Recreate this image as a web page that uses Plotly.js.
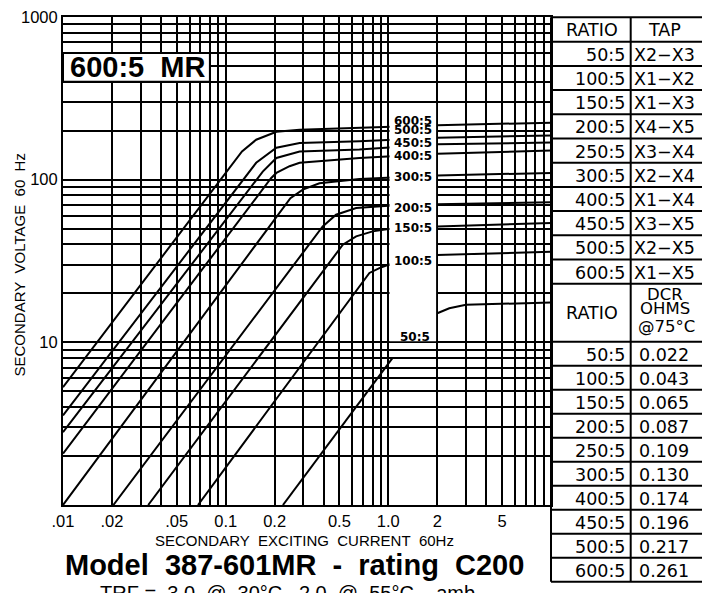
<!DOCTYPE html>
<html><head><meta charset="utf-8">
<script src="https://cdn.plot.ly/plotly-3.0.1.min.js"></script>
<style>html,body{margin:0;padding:0;background:#fff;} #chart{width:702px;height:593px;}</style>
</head><body><div id="chart"></div>
<script>
// ---------------- data ----------------
const ratios  = ["50:5","100:5","150:5","200:5","250:5","300:5","400:5","450:5","500:5","600:5"];
const taps    = ["X2\u2212X3","X1\u2212X2","X1\u2212X3","X4\u2212X5","X3\u2212X4","X2\u2212X4","X1\u2212X4","X3\u2212X5","X2\u2212X5","X1\u2212X5"];
const dcrOhms = ["0.022","0.043","0.065","0.087","0.109","0.130","0.174","0.196","0.217","0.261"];

// excitation curves: secondary exciting current (A) vs secondary voltage (V)
const curveNames = ["600:5","500:5","450:5","400:5","300:5","200:5","150:5","100:5","50:5"];
const I600 = [0.01, 0.126, 0.154, 0.205, 0.285, 0.664, 2, 10];
const V600 = [5.3, 149, 176, 197, 203, 209, 216, 224];
const I500 = [0.01, 0.154, 0.205, 0.285, 0.664, 2, 10];
const V500 = [3.55, 127, 157, 168, 172, 181, 187];
const I450 = [0.01, 0.169, 0.205, 0.285, 0.664, 2, 10];
const V450 = [2.8, 112, 136, 149, 153, 165, 169];
const I400 = [0.01, 0.19, 0.205, 0.247, 0.285, 0.664, 2, 10];
const V400 = [2.07, 102, 110, 121, 127, 136, 144.5, 151];
const I300 = [0.01, 0.25, 0.298, 0.377, 0.664, 2, 10];
const V300 = [1.0, 77, 86.8, 95, 101, 106, 110];
const I200 = [0.0204, 0.395, 0.477, 0.634, 1.0, 2, 10];
const V200 = [1, 51.6, 60.9, 67, 69.2, 70.7, 72.7];
const I150 = [0.0334, 0.525, 0.634, 0.801, 1.0, 2, 10];
const V150 = [1, 39.8, 44.8, 48.1, 49.7, 51.6, 54.1];
const I100 = [0.0676, 0.765, 0.881, 1.0, 2, 10];
const V100 = [1, 26.7, 28.6, 30, 34.4, 36.1];
const I50  = [0.225, 1.06, null, 2, 2.37, 3, 10];
const V50  = [1, 8.0, null, 15.1, 16.2, 17.0, 17.6];

// axis ticks / grid
const xTickVals = [0.01,0.02,0.03,0.04,0.05,0.06,0.07,0.08,0.09,0.1,0.2,0.3,0.4,0.5,0.6,0.7,0.8,0.9,1,2,3,4,5,6,7,8,9,10];
const xTickText = [".01",".02","","",".05","","","","","0.1","0.2","","","0.5","","","","","1.0","2","","","5","","","","",""];
const yTickVals = [1,2,3,4,5,6,7,8,9,10,20,30,40,50,60,70,80,90,100,200,300,400,500,600,700,800,900,1000];
const yTickText = ["","","","","","","","","","10","","","","","","","","","100","","","","","","","","","1000"];

// ---------------- layout helpers ----------------
const L = 63, T = 17, W = 488, H = 488;
const pxX = p => (p - L) / W;          // pixel -> paper x
const pxY = p => (T + H - p) / H;      // pixel -> paper y
const dX = v => (Math.log10(v) + 2) / 3; // data -> paper x
const dY = v => Math.log10(v) / 3;       // data -> paper y
const ARIAL = "Liberation Sans, Arial, Helvetica, sans-serif";
const DEJ = "DejaVu Sans, Verdana, sans-serif";

const curveX = [I600,I500,I450,I400,I300,I200,I150,I100,I50];
const curveY = [V600,V500,V450,V400,V300,V200,V150,V100,V50];

const traces = curveX.map((xs, k) => ({
  type: 'scatter', mode: 'lines', x: xs, y: curveY[k], name: curveNames[k],
  line: {color: '#000', width: 2}, connectgaps: false, hoverinfo: 'skip', showlegend: false
}));

const shapes = [];
const annotations = [];
const blk = {color: '#000', width: 2};
function hline(x0, x1, y) { shapes.push({type:'line', xref:'paper', yref:'paper', x0:pxX(x0), x1:pxX(x1), y0:pxY(y), y1:pxY(y), line:blk, layer:'above'}); }
function vline(x, y0, y1) { shapes.push({type:'line', xref:'paper', yref:'paper', x0:pxX(x), x1:pxX(x), y0:pxY(y0), y1:pxY(y1), line:blk, layer:'above'}); }
function txt(text, x, y, xanchor, size, family, extra) {
  annotations.push(Object.assign({text, xref:'paper', yref:'paper', x:pxX(x), y:pxY(y), xanchor, yanchor:'middle',
    showarrow:false, font:{family, size, color:'#000'}}, extra || {}));
}

// label box inside the grid (between I=1 and I=2)
const ip = 1.2 / W;
shapes.push({type:'rect', xref:'paper', yref:'paper', x0:dX(1)+ip, x1:dX(2)-ip, y0:dY(10)+ip, y1:dY(300)-ip,
  fillcolor:'#fff', line:{width:0}, layer:'above'});
// curve labels
const labShift = {"600:5":3.8, "500:5":7.5, "450:5":1.5, "400:5":-2, "300:5":-1, "200:5":-4, "150:5":-2, "100:5":-6.4, "50:5":-23.4};
curveNames.forEach((nm, k) => {
  const idx = curveX[k].indexOf(2);
  annotations.push({text: nm, xref:'paper', yref:'paper', x:(dX(1)+dX(2))/2, y:dY(curveY[k][idx]),
    xanchor:'center', yanchor:'middle', yshift: labShift[nm], xshift: nm === "50:5" ? 2 : 0, showarrow:false,
    font:{family:"DejaVu Sans", size:12, color:'#000', weight:'bold'}});
});

// "600:5 MR" box
shapes.push({type:'rect', xref:'paper', yref:'paper', x0:dX(0.01), x1:dX(0.08), y0:dY(400), y1:dY(600),
  fillcolor:'#fff', line:{color:'#000', width:2}, layer:'above'});
annotations.push({text:"600:5\u00a0\u00a0MR", xref:'paper', yref:'paper', x:(dX(0.01)+dX(0.08))/2 + 1/W, y:(dY(400)+dY(600))/2,
  xanchor:'center', yanchor:'middle', showarrow:false, font:{family:ARIAL, size:29, color:'#000', weight:'bold'}});

// ---------------- table ----------------
const tL = 551, tM = 630.7, tR = 706;
const top1 = 17.3, hdr1B = 41.7, rowH1 = 24.2;
const hdr2B = 341.7, rowH2 = 24.0;
const rows1 = ratios.map((r, i) => hdr1B + i * rowH1);
const hdr2T = hdr1B + ratios.length * rowH1;
const rows2 = ratios.map((r, i) => hdr2B + i * rowH2);
const tBot = hdr2B + ratios.length * rowH2;

hline(tL, tR, top1);
hline(tL, tR, hdr1B);
rows1.forEach(y => hline(tL, tR, y + rowH1));
hline(tL, tR, hdr2B);
rows2.forEach(y => hline(tL, tR, y + rowH2));
vline(tL, top1, tBot);
vline(tM, top1, tBot);

const TS = 17.5;
txt("RATIO", 591.5, (top1 + hdr1B) / 2 + 0.5, 'center', TS, DEJ);
txt("TAP", 664, (top1 + hdr1B) / 2 + 0.5, 'center', TS, DEJ);
ratios.forEach((r, i) => {
  const yc = rows1[i] + rowH1 / 2 + 1;
  txt(r, 626.5, yc, 'right', TS, DEJ);
  txt(taps[i], 632, yc, 'left', TS, DEJ);
});
txt("RATIO", 591.5, (hdr2T + hdr2B) / 2 + 0.5, 'center', TS, DEJ);
txt("DCR", 664.5, 294.2, 'center', 16.5, DEJ);
txt("OHMS", 664.5, 308.6, 'center', 16.5, DEJ);
txt("@75\u00b0C", 666, 326, 'center', 16.5, DEJ);
ratios.forEach((r, i) => {
  const yc = rows2[i] + rowH2 / 2 + 1;
  txt(r, 626.5, yc, 'right', TS, DEJ);
  txt(dcrOhms[i], 636.5, yc, 'left', TS, DEJ);
});

// ---------------- titles ----------------
txt("SECONDARY\u00a0\u00a0VOLTAGE\u00a0\u00a060\u00a0\u00a0Hz", 18.5, 265, 'center', 15, ARIAL, {textangle:-90});
txt("SECONDARY\u00a0\u00a0EXCITING\u00a0\u00a0CURRENT\u00a0\u00a060Hz", 304.7, 540.7, 'center', 15, ARIAL);
txt("Model\u00a0\u00a0387-601MR\u00a0\u00a0-\u00a0\u00a0rating\u00a0\u00a0C200", 294, 564.5, 'center', 29, ARIAL, {font:{family:ARIAL, size:29, color:'#000', weight:'bold'}});
txt("TRF\u00a0=\u00a0\u00a03.0\u00a0\u00a0@\u00a0\u00a030\u00b0C\u00a0\u00a0\u00a02.0\u00a0\u00a0@\u00a0\u00a055\u00b0C\u00a0\u00a0\u00a0\u00a0amb.", 98, 593, 'left', 20, ARIAL);

const axisCommon = {
  type: 'log', tickmode: 'array', showgrid: true, gridcolor: '#000', gridwidth: 2,
  showline: true, linecolor: '#000', linewidth: 2, mirror: true, ticks: '',
  zeroline: false, fixedrange: true, tickfont: {family: ARIAL, size: 16.5, color: '#000'}
};
const layout = {
  width: 702, height: 593,
  margin: {l: L, r: 702 - L - W, t: T, b: 593 - T - H, pad: 0},
  paper_bgcolor: '#fff', plot_bgcolor: '#fff', showlegend: false,
  xaxis: Object.assign({}, axisCommon, {range: [-2, 1], tickvals: xTickVals, ticktext: xTickText, tickangle: 0}),
  yaxis: Object.assign({}, axisCommon, {range: [0, 3], tickvals: yTickVals, ticktext: yTickText}),
  shapes, annotations
};
Plotly.newPlot('chart', traces, layout, {staticPlot: true, displayModeBar: false});
</script>
</body></html>
